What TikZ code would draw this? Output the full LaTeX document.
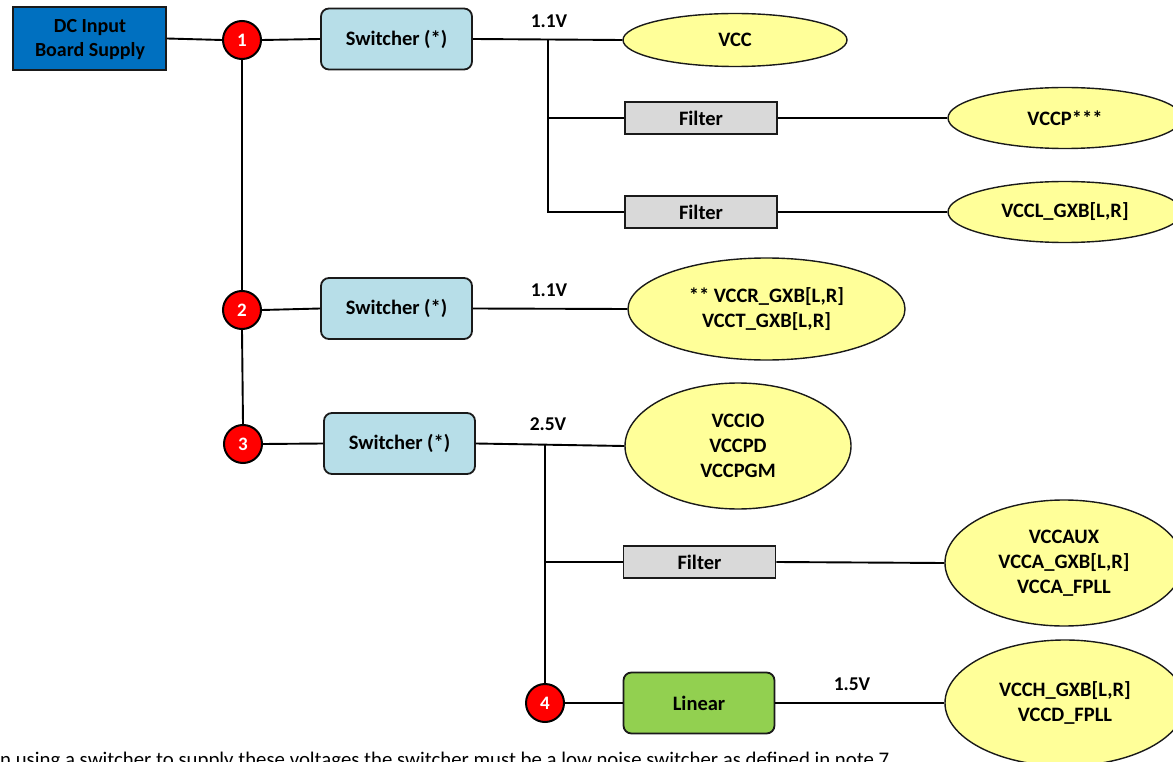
\documentclass[tikz,border=0pt]{standalone}
\usepackage{fontspec}
\setmainfont{Carlito}
\usetikzlibrary{shapes.geometric}
\definecolor{dcblue}{HTML}{0070C0}
\definecolor{swblue}{HTML}{B7DEE8}
\definecolor{filtgray}{HTML}{D9D9D9}
\definecolor{lingreen}{HTML}{92D050}
\definecolor{ellyel}{HTML}{FFFF99}
\definecolor{edge}{HTML}{1A1A1A}
\tikzset{
  txt/.style={font=\fontsize{20.5}{25}\selectfont\bfseries, align=center, inner sep=0pt},
  dcbox/.style={txt, rectangle, draw=edge, line width=1.8pt, fill=dcblue, minimum width=153, minimum height=63},
  swbox/.style={txt, rectangle, rounded corners=8, draw=edge, line width=1.8pt, fill=swblue, minimum width=151, minimum height=61},
  linbox/.style={swbox, fill=lingreen},
  filtbox/.style={txt, rectangle, draw=edge, line width=1.8pt, fill=filtgray, minimum width=152, minimum height=32},
  rail/.style={txt, ellipse, draw=edge, line width=1.4pt, fill=ellyel},
  numc/.style={circle, draw=black, line width=2pt, fill=red, text=white, minimum size=38, inner sep=0pt, font=\fontsize{19}{22}\selectfont\bfseries},
  wire/.style={draw=black, line width=1.9pt},
  volt/.style={font=\fontsize{19.5}{23}\selectfont\bfseries, inner sep=0pt}
}
\begin{document}
\begin{tikzpicture}[x=1pt,y=-1pt]
\useasboundingbox (0,0) rectangle (1173,762);
\clip (0,0) rectangle (1173,762);
% nodes
\node[dcbox] (dc) at (89.5,38.5) {};
\node[txt, font=\fontsize{20}{24}\selectfont\bfseries] (dct) at (90,40) {DC Input\\Board Supply};
\node[numc] (c1) at (242,40) {1};
\node[numc] (c2) at (242,310) {2};
\node[numc] (c3) at (243,444) {3};
\node[numc] (c4) at (545,703) {4};
\node[swbox] (sw1) at (396.5,39) {Switcher (*)};
\node[swbox] (sw2) at (396.5,308.5) {Switcher (*)};
\node[swbox] (sw3) at (399.5,443.5) {Switcher (*)};
\node[linbox] (lin) at (699,703) {Linear};
\node[filtbox] (f1) at (701,118) {Filter};
\node[filtbox] (f2) at (701,212) {Filter};
\node[filtbox] (f3) at (699.5,562) {Filter};
\node[rail, minimum width=224, minimum height=53] (vcc) at (735,40) {VCC};
\node[rail, minimum width=234, minimum height=61] (vccp) at (1065,118) {VCCP***};
\node[rail, minimum width=234, minimum height=61] (vccl) at (1065,212) {VCCL\_GXB[L,R]};
\node[rail, minimum width=277, minimum height=102] (vccr) at (766.5,309) {** VCCR\_GXB[L,R]\\VCCT\_GXB[L,R]};
\node[rail, minimum width=226, minimum height=126] (vccio) at (738,446) {VCCIO\\VCCPD\\VCCPGM};
\node[rail, minimum width=238, minimum height=126] (vccaux) at (1064,563) {VCCAUX\\VCCA\_GXB[L,R]\\VCCA\_FPLL};
\node[rail, minimum width=240, minimum height=126] (vcch) at (1065,703) {VCCH\_GXB[L,R]\\VCCD\_FPLL};
% bus points
\coordinate (b1) at (548,40);
\coordinate (b3) at (545,444);
% voltage labels
\node[volt] (v1) at (549,21) {1.1V};
\node[volt] (v2) at (549,290) {1.1V};
\node[volt] (v3) at (548,424) {2.5V};
\node[volt] (v4) at (852,684) {1.5V};
% connectors
\draw[wire] (dc.east) -- (c1.west);
\draw[wire] (c1.east) -- (sw1.west);
\draw[wire] (c1.south) -- (c2.north);
\draw[wire] (c2.south) -- (c3.north);
\draw[wire] (c2.east) -- (sw2.west);
\draw[wire] (c3.east) -- (sw3.west);
\draw[wire] (sw1.east) -- (vcc.west);
\draw[wire] (b1) |- (f2.west);
\draw[wire] (b1 |- f1.west) -- (f1.west);
\draw[wire] (f1.east) -- (vccp.west);
\draw[wire] (f2.east) -- (vccl.west);
\draw[wire] (sw2.east) -- (vccr.west);
\draw[wire] (sw3.east) -- (vccio.west);
\draw[wire] (b3) -- (c4.north);
\draw[wire] (b3 |- f3.west) -- (f3.west);
\draw[wire] (f3.east) -- (vccaux.west);
\draw[wire] (c4.east) -- (lin.west);
\draw[wire] (lin.east) -- (vcch.west);
% footnote
\node[anchor=base west, inner sep=0pt, font=\fontsize{20.8}{24}\selectfont] (note) at (0,766) {n using a switcher to supply these voltages the switcher must be a low noise switcher as defined in note 7.};
\end{tikzpicture}
\end{document}
